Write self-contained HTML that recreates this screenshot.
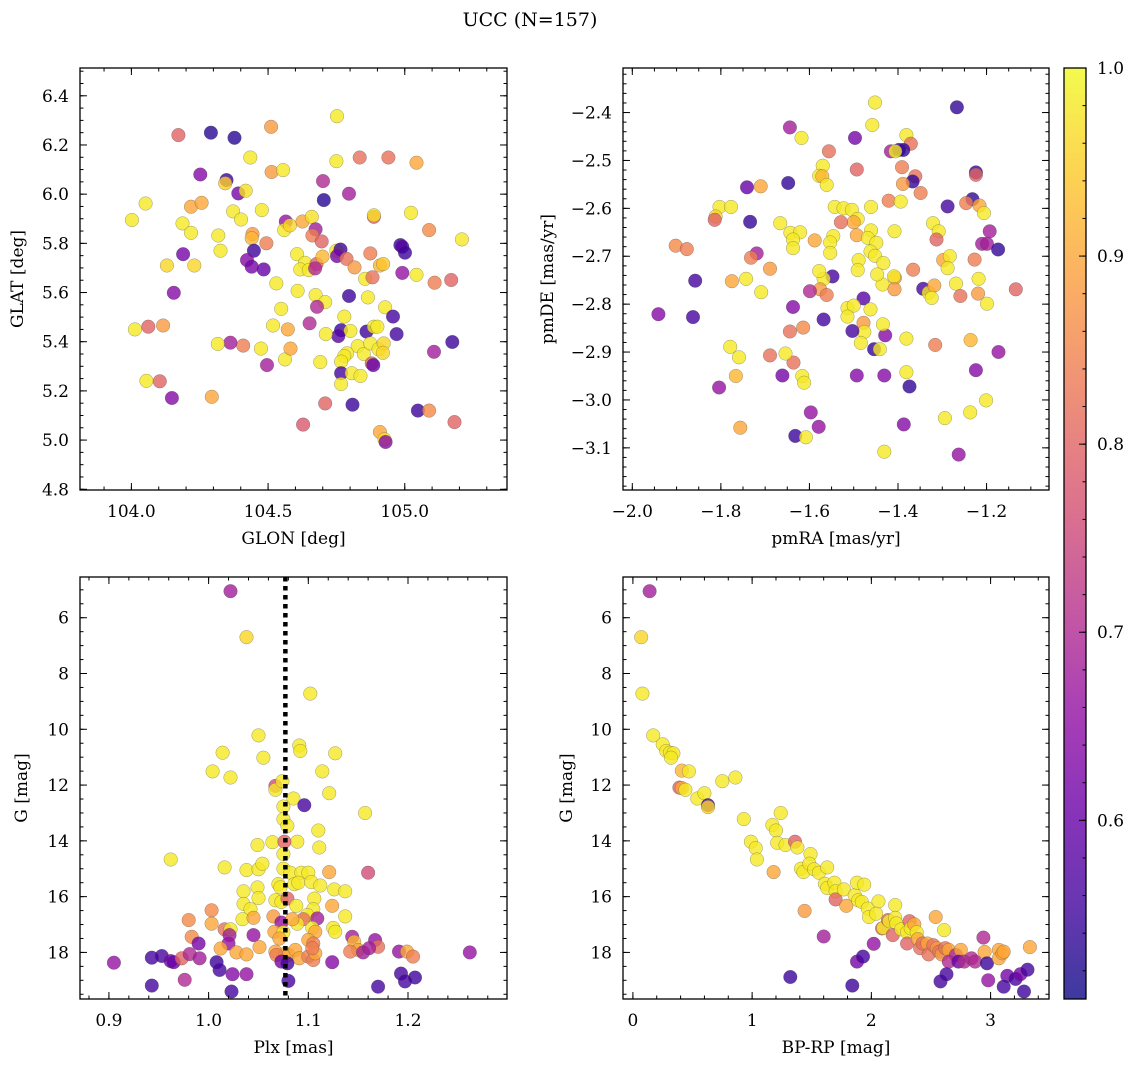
<!DOCTYPE html>
<html><head><meta charset="utf-8"><title>UCC (N=157)</title>
<style>
html,body{margin:0;padding:0;background:#fff;}
svg{display:block;font-family:"DejaVu Serif","Liberation Serif",serif;}
</style></head>
<body>
<svg id="fig" width="1136" height="1067" viewBox="0 0 1136 1067" xmlns="http://www.w3.org/2000/svg">
<defs>
<linearGradient id="plasmaGrad" x1="0" y1="1" x2="0" y2="0">
<stop offset="0" stop-color="#0d0887"/><stop offset="0.1" stop-color="#41049d"/><stop offset="0.2" stop-color="#6a00a8"/><stop offset="0.3" stop-color="#8f0da4"/><stop offset="0.4" stop-color="#b12a90"/><stop offset="0.5" stop-color="#cc4778"/><stop offset="0.6" stop-color="#e16462"/><stop offset="0.7" stop-color="#f2844b"/><stop offset="0.8" stop-color="#fca636"/><stop offset="0.9" stop-color="#fcce25"/><stop offset="1" stop-color="#f0f921"/>
</linearGradient>
</defs>
<text x="530" y="26" font-size="19" text-anchor="middle">UCC (N=157)</text>
</svg>
<script>
// ---- Panel 1: GLON / GLAT ----
const glon=[104.752,104.172,104.291,104.377,104.511,104.435,104.750,104.835,104.940,105.043,104.252,104.348,104.343,104.513,104.555,104.701,104.704,104.796,104.391,104.418,104.052,104.002,104.218,104.257,104.187,104.218,104.318,104.326,104.372,104.401,104.477,104.443,104.440,104.494,104.448,104.189,104.130,104.230,104.423,104.440,104.484,104.155,104.565,104.559,104.580,104.626,104.660,104.674,104.662,104.696,104.606,104.635,104.618,104.649,104.677,104.672,104.699,104.750,104.765,104.752,104.787,104.816,104.874,104.855,104.882,104.909,104.921,104.984,104.991,105.001,104.991,105.043,104.887,104.887,105.023,105.089,105.109,105.170,105.209,104.530,104.608,104.674,104.709,104.679,104.796,104.865,104.928,104.548,104.779,104.957,104.652,104.518,104.572,104.767,104.801,104.860,104.887,104.900,104.970,104.757,104.711,104.828,104.850,104.874,104.904,104.923,104.920,104.789,104.779,104.767,104.879,104.885,104.691,104.562,104.582,104.496,104.474,104.409,104.362,104.316,104.116,104.062,104.013,104.055,104.104,104.148,104.294,104.767,104.767,104.806,104.838,104.709,104.809,104.628,104.909,104.926,104.930,105.048,105.089,105.107,105.174,105.182];
const glat=[6.317,6.240,6.250,6.229,6.274,6.149,6.134,6.149,6.149,6.128,6.080,6.057,6.044,6.090,6.098,6.053,5.976,6.002,6.003,6.014,5.962,5.895,5.949,5.965,5.881,5.843,5.832,5.770,5.930,5.897,5.935,5.838,5.821,5.800,5.770,5.756,5.710,5.710,5.732,5.705,5.694,5.599,5.889,5.854,5.873,5.889,5.908,5.857,5.832,5.808,5.756,5.721,5.694,5.691,5.716,5.698,5.746,5.770,5.775,5.748,5.737,5.702,5.759,5.656,5.662,5.710,5.716,5.793,5.786,5.762,5.680,5.672,5.908,5.914,5.924,5.854,5.640,5.651,5.816,5.637,5.607,5.590,5.561,5.542,5.586,5.580,5.540,5.534,5.502,5.502,5.475,5.466,5.450,5.447,5.444,5.441,5.461,5.461,5.431,5.423,5.431,5.382,5.350,5.393,5.369,5.393,5.355,5.353,5.342,5.319,5.312,5.305,5.317,5.328,5.372,5.305,5.372,5.384,5.396,5.391,5.466,5.461,5.450,5.241,5.239,5.171,5.176,5.272,5.228,5.272,5.261,5.149,5.144,5.063,5.033,5.003,4.992,5.120,5.120,5.359,5.399,5.073];
const prob1=[.98,.8,.53,.53,.88,.98,.98,.82,.82,.9,.64,.55,.95,.88,.98,.7,.53,.68,.62,.97,.98,.98,.9,.9,.98,.98,.98,.98,.98,.98,.98,.88,.92,.84,.55,.62,.96,.96,.64,.62,.6,.64,.66,.98,.96,.9,.97,.68,.84,.8,.98,.98,.98,.98,.8,.7,.92,.98,.55,.62,.82,.88,.84,.98,.82,.92,.94,.55,.58,.55,.66,.98,.8,.97,.98,.86,.84,.8,.98,.98,.98,.98,.98,.7,.55,.98,.98,.98,.98,.56,.7,.98,.9,.55,.98,.55,.98,.98,.56,.58,.98,.98,.98,.98,.98,.96,.96,.98,.98,.98,.8,.6,.98,.98,.9,.68,.98,.84,.68,.98,.88,.8,.98,.98,.8,.64,.9,.56,.98,.98,.98,.8,.55,.78,.9,.97,.64,.55,.86,.68,.55,.8];

// ---- Panel 2: pmRA / pmDE ----
const pmra=[-1.452,-1.267,-1.644,-1.458,-1.618,-1.497,-1.381,-1.371,-1.416,-1.398,-1.388,-1.406,-1.556,-1.493,-1.391,-1.570,-1.578,-1.571,-1.561,-1.361,-1.367,-1.389,-1.349,-1.741,-1.710,-1.648,-1.224,-1.224,-1.232,-1.246,-1.216,-1.206,-1.288,-1.421,-1.394,-1.461,-1.543,-1.523,-1.504,-1.491,-1.500,-1.529,-1.803,-1.777,-1.812,-1.814,-1.734,-1.666,-1.643,-1.621,-1.637,-1.637,-1.588,-1.546,-1.553,-1.553,-1.493,-1.461,-1.468,-1.449,-1.462,-1.452,-1.433,-1.408,-1.321,-1.308,-1.313,-1.193,-1.210,-1.199,-1.174,-1.227,-1.298,-1.283,-1.288,-1.366,-1.407,-1.409,-1.435,-1.447,-1.489,-1.491,-1.408,-1.343,-1.331,-1.318,-1.324,-1.269,-1.259,-1.218,-1.219,-1.199,-1.134,-1.173,-1.224,-1.236,-1.316,-1.201,-1.237,-1.294,-1.263,-1.431,-1.387,-1.374,-1.381,-1.431,-1.493,-1.381,-1.454,-1.441,-1.429,-1.434,-1.478,-1.476,-1.484,-1.503,-1.478,-1.462,-1.514,-1.500,-1.514,-1.568,-1.548,-1.568,-1.578,-1.576,-1.561,-1.599,-1.637,-1.644,-1.614,-1.636,-1.654,-1.661,-1.616,-1.612,-1.689,-1.689,-1.719,-1.732,-1.743,-1.775,-1.709,-1.858,-1.902,-1.877,-1.941,-1.863,-1.779,-1.759,-1.766,-1.804,-1.756,-1.597,-1.579,-1.632,-1.608];
const pmde=[-2.379,-2.389,-2.431,-2.426,-2.453,-2.453,-2.447,-2.465,-2.481,-2.478,-2.478,-2.481,-2.481,-2.519,-2.514,-2.511,-2.532,-2.533,-2.551,-2.533,-2.544,-2.549,-2.568,-2.556,-2.554,-2.547,-2.525,-2.530,-2.581,-2.589,-2.594,-2.610,-2.596,-2.584,-2.586,-2.597,-2.597,-2.600,-2.603,-2.622,-2.629,-2.629,-2.597,-2.597,-2.617,-2.624,-2.628,-2.631,-2.651,-2.650,-2.665,-2.683,-2.667,-2.658,-2.671,-2.693,-2.656,-2.646,-2.662,-2.672,-2.690,-2.699,-2.714,-2.648,-2.631,-2.648,-2.665,-2.648,-2.674,-2.674,-2.686,-2.707,-2.708,-2.700,-2.725,-2.728,-2.745,-2.742,-2.759,-2.738,-2.708,-2.729,-2.769,-2.768,-2.776,-2.761,-2.787,-2.757,-2.783,-2.747,-2.778,-2.799,-2.769,-2.900,-2.938,-2.875,-2.885,-3.001,-3.026,-3.038,-3.114,-3.108,-3.051,-2.972,-2.942,-2.949,-2.949,-2.872,-2.894,-2.894,-2.865,-2.842,-2.839,-2.858,-2.881,-2.856,-2.788,-2.811,-2.808,-2.803,-2.826,-2.832,-2.742,-2.747,-2.731,-2.769,-2.781,-2.773,-2.806,-2.857,-2.849,-2.922,-2.903,-2.949,-2.950,-2.964,-2.907,-2.726,-2.694,-2.703,-2.747,-2.752,-2.775,-2.751,-2.678,-2.685,-2.821,-2.827,-2.889,-2.911,-2.950,-2.974,-3.058,-3.026,-3.056,-3.075,-3.078];
const prob2=[.98,.54,.68,.98,.98,.62,.98,.82,.68,.54,.54,.98,.82,.8,.84,.98,.98,.92,.98,.82,.54,.88,.84,.6,.9,.54,.54,.8,.54,.84,.9,.98,.56,.84,.98,.98,.98,.98,.98,.98,.9,.82,.98,.98,.96,.8,.54,.98,.98,.98,.98,.98,.9,.98,.98,.98,.9,.98,.98,.98,.98,.98,.98,.98,.98,.98,.8,.68,.68,.68,.54,.84,.9,.98,.98,.84,.88,.98,.98,.98,.98,.98,.88,.56,.98,.9,.98,.98,.82,.98,.88,.98,.8,.66,.64,.92,.84,.98,.98,.98,.66,.98,.64,.54,.98,.64,.64,.98,.54,.98,.64,.98,.88,.98,.98,.56,.58,.98,.98,.98,.98,.56,.56,.98,.98,.88,.84,.7,.64,.82,.86,.82,.98,.62,.98,.98,.82,.88,.68,.84,.98,.9,.98,.56,.86,.84,.64,.56,.98,.98,.92,.66,.9,.66,.66,.55,.98];

// ---- Panel 3: Plx / G ----
const plx=[1.022,1.038,1.102,1.050,1.091,1.092,1.127,1.014,1.055,1.004,1.022,1.114,1.067,1.067,1.074,1.121,1.085,1.096,1.075,1.157,1.075,1.079,1.110,1.049,1.064,1.089,1.076,1.075,1.111,0.962,1.016,1.038,1.050,1.054,1.121,1.160,1.075,1.082,1.093,1.100,1.070,1.072,1.086,1.090,1.103,1.112,1.049,1.035,1.126,1.137,1.067,1.073,1.079,1.050,1.035,1.042,1.088,1.106,1.105,1.124,1.003,0.980,1.003,1.034,1.045,1.065,1.099,1.095,1.109,1.137,1.073,1.089,1.084,1.016,1.022,1.021,1.020,1.066,1.075,1.104,1.107,1.125,1.127,1.045,0.983,0.990,1.071,1.100,1.105,1.144,1.146,1.150,1.167,1.170,1.012,1.028,1.038,1.051,1.067,1.077,1.080,1.068,1.087,1.091,1.100,1.105,1.107,1.104,1.142,1.155,1.161,1.191,1.199,1.205,1.262,0.905,0.943,0.953,0.962,0.965,0.973,0.981,0.991,1.008,1.011,1.024,1.038,0.976,0.943,1.023,1.073,1.079,1.080,1.124,1.170,1.193,1.197,1.207];
const gmag3=[5.05,6.70,8.72,10.22,10.58,10.78,10.86,10.84,11.02,11.51,11.73,11.51,12.03,12.17,11.86,12.29,12.48,12.72,12.77,13.00,13.22,13.46,13.63,14.15,14.05,14.03,14.03,14.47,14.24,14.67,14.95,15.05,15.02,14.82,15.12,15.14,15.00,15.14,15.14,15.14,15.55,15.67,15.55,15.50,15.48,15.60,15.67,15.81,15.74,15.81,16.13,16.19,16.07,16.05,16.26,16.45,16.33,16.07,16.45,16.33,16.49,16.84,16.97,16.81,16.76,16.71,16.66,16.81,16.78,16.71,16.93,16.97,16.81,17.17,17.17,17.38,17.68,17.26,17.28,17.12,17.26,17.12,17.26,17.38,17.44,17.68,17.50,17.55,17.68,17.44,17.62,17.91,17.56,17.80,17.86,18.00,18.07,17.81,17.97,18.04,18.09,18.09,17.91,18.21,18.15,18.27,18.03,17.85,17.97,18.00,17.85,17.97,17.97,18.15,18.00,18.37,18.19,18.13,18.31,18.35,18.21,18.06,18.21,18.35,18.63,18.78,18.78,18.98,19.19,19.40,18.33,18.39,19.02,18.35,19.23,18.76,19.04,18.90];
const prob3=[.68,.96,.98,.98,.98,.98,.98,.98,.98,.98,.98,.98,.76,.98,.98,.98,.98,.56,.98,.98,.98,.98,.98,.98,.98,.98,.8,.98,.98,.98,.98,.98,.98,.98,.9,.76,.98,.98,.98,.98,.98,.98,.98,.98,.98,.98,.98,.98,.98,.98,.98,.98,.8,.98,.98,.98,.98,.98,.98,.9,.86,.86,.9,.98,.9,.88,.98,.82,.68,.98,.66,.98,.9,.82,.98,.68,.66,.9,.98,.98,.9,.98,.98,.66,.86,.62,.9,.9,.84,.68,.92,.9,.66,.82,.9,.9,.9,.9,.9,.9,.9,.84,.9,.9,.84,.84,.9,.84,.84,.68,.68,.66,.9,.84,.66,.66,.56,.56,.62,.6,.8,.7,.68,.55,.56,.64,.66,.7,.56,.56,.62,.56,.56,.64,.56,.56,.56,.55];

// ---- Panel 4: BP-RP / G ----
const bprp=[0.14,0.07,0.08,0.17,0.25,0.28,0.31,0.34,0.32,0.41,0.47,0.75,0.86,0.39,0.41,0.44,0.54,0.60,0.63,0.63,0.93,1.24,1.17,1.20,0.99,1.03,1.04,1.21,1.28,1.36,1.38,1.49,1.18,1.41,1.43,1.48,1.52,1.56,1.63,1.61,1.63,1.69,1.70,1.70,1.77,1.79,1.86,1.88,1.94,1.89,1.92,1.97,1.98,2.06,2.04,2.09,2.10,2.14,2.15,2.20,2.20,2.21,2.18,2.25,2.30,2.30,2.32,2.33,2.36,2.38,2.39,2.41,2.43,2.47,2.48,2.54,2.61,2.52,2.55,2.57,2.59,2.62,2.65,2.65,2.71,2.75,2.73,2.78,2.84,2.87,2.94,2.95,2.97,3.07,3.07,3.10,3.11,3.33,2.98,3.14,3.21,3.25,3.31,3.11,3.28,2.58,2.63,1.44,1.60,2.02,1.88,1.93,1.32,1.84];
const gmag4=[5.05,6.70,8.72,10.22,10.54,10.78,10.84,10.86,11.02,11.48,11.51,11.86,11.73,12.09,12.11,12.17,12.48,12.29,12.72,12.79,13.22,13.00,13.43,13.63,14.03,14.26,14.67,14.07,14.15,14.03,14.24,14.47,15.12,15.00,15.12,14.82,15.02,15.14,14.95,15.54,15.69,15.50,15.81,16.10,15.74,16.33,15.95,15.50,15.57,16.13,16.19,16.43,16.73,16.17,16.61,17.14,17.12,16.84,16.88,16.30,16.76,16.96,17.38,17.17,17.28,17.68,16.88,17.14,16.99,17.28,17.52,17.85,17.68,17.68,18.07,16.73,17.20,17.74,17.85,17.97,18.07,17.85,17.91,18.33,18.09,17.91,18.33,18.33,18.21,18.33,17.47,17.98,18.39,17.91,18.21,18.03,17.97,17.81,19.00,18.84,18.95,18.78,18.62,19.23,19.40,19.04,18.78,16.51,17.43,17.69,18.33,18.15,18.88,19.19];
const prob4=[.68,.96,.98,.98,.98,.98,.98,.98,.98,.92,.98,.98,.98,.8,.9,.98,.98,.98,.56,.96,.98,.98,.98,.98,.98,.98,.98,.98,.98,.8,.98,.98,.9,.98,.98,.98,.98,.98,.98,.98,.98,.98,.98,.8,.98,.9,.98,.98,.98,.98,.98,.98,.98,.98,.98,.8,.98,.8,.98,.98,.98,.98,.8,.98,.98,.8,.8,.98,.9,.98,.9,.82,.82,.9,.82,.9,.98,.82,.88,.82,.88,.82,.9,.7,.7,.9,.6,.7,.7,.7,.7,.9,.55,.9,.9,.9,.9,.9,.66,.62,.56,.62,.56,.56,.55,.56,.56,.88,.68,.66,.62,.56,.55,.55];

// ---- Colorbar ticks ----
const cbTicks=[0.6,0.7,0.8,0.9,1.0];
const cbMin=0.505, cbMax=1.0;

const NS="http://www.w3.org/2000/svg";
const svg=document.getElementById('fig');
function el(tag,attrs,parent){const e=document.createElementNS(NS,tag);for(const k in attrs)e.setAttribute(k,attrs[k]);(parent||svg).appendChild(e);return e;}

const plasmaStops=[[13,8,135],[65,4,157],[106,0,168],[143,13,164],[177,42,144],[204,71,120],[225,100,98],[242,132,75],[252,166,54],[252,206,37],[240,249,33]];
function plasma(t){t=Math.max(0,Math.min(1,t));const f=t*10;const i=Math.min(9,Math.floor(f));const r=f-i;const a=plasmaStops[i],b=plasmaStops[i+1];
 return 'rgb('+Math.round(a[0]+(b[0]-a[0])*r)+','+Math.round(a[1]+(b[1]-a[1])*r)+','+Math.round(a[2]+(b[2]-a[2])*r)+')';}
function colorOf(p){return plasma((p-cbMin)/(cbMax-cbMin));}

function fmt(v,d){return (v<0?'\u2212':'')+Math.abs(v).toFixed(d);}

function panel(cfg){
 const g=el('g',{});
 
 
 const L=cfg.box[0],T=cfg.box[1],R=cfg.box[2],B=cfg.box[3];
 const sx=v=>L+(v-cfg.xd[0])/(cfg.xd[1]-cfg.xd[0])*(R-L);
 const sy=cfg.yInv? (v=>T+(v-cfg.yd[0])/(cfg.yd[1]-cfg.yd[0])*(B-T)) : (v=>B-(v-cfg.yd[0])/(cfg.yd[1]-cfg.yd[0])*(B-T));
 const pts=el('g',{},g);
 
 
 for(let i=0;i<cfg.xs.length;i++){
  const c=el('circle',{cx:sx(cfg.xs[i]).toFixed(1),cy:sy(cfg.ys[i]).toFixed(1),r:6.8,fill:colorOf(cfg.ps[i]),'fill-opacity':0.8,stroke:'#444','stroke-opacity':0.5,'stroke-width':0.5},pts);
  
  
 }
 if(cfg.vline!==undefined){
  const ln=el('line',{x1:sx(cfg.vline),x2:sx(cfg.vline),y1:T,y2:B,stroke:'#000','stroke-width':4.5,'stroke-dasharray':'4.5 4.5'},g);
  
  
 }
 const tg=el('g',{stroke:'#000','stroke-width':1},g);
 
 
 function range(a,b,s){const o=[];const n=Math.round((b-a)/s);for(let k=0;k<=n;k++)o.push(a+k*s);return o;}
 const xmin=Math.min(...cfg.xd),xmax=Math.max(...cfg.xd),ymin=Math.min(...cfg.yd),ymax=Math.max(...cfg.yd);
 range(Math.ceil(xmin/cfg.xm-1e-6)*cfg.xm,xmax,cfg.xm).forEach(v=>{if(v>xmax+1e-9)return;const x=sx(v);el('line',{x1:x,x2:x,y1:B,y2:B-3.5},tg);el('line',{x1:x,x2:x,y1:T,y2:T+3.5},tg);});
 range(Math.ceil(ymin/cfg.ym-1e-6)*cfg.ym,ymax,cfg.ym).forEach(v=>{if(v>ymax+1e-9)return;const y=sy(v);el('line',{x1:L,x2:L+3.5,y1:y,y2:y},tg);el('line',{x1:R,x2:R-3.5,y1:y,y2:y},tg);});
 cfg.xt.forEach(v=>{const x=sx(v);el('line',{x1:x,x2:x,y1:B,y2:B-7},tg);el('line',{x1:x,x2:x,y1:T,y2:T+7},tg);
  const t=el('text',{x:x,y:B+27,'font-size':17,'text-anchor':'middle',stroke:'none',fill:'#000'},g);t.textContent=fmt(v,cfg.xdec);
  
  });
 cfg.yt.forEach(v=>{const y=sy(v);el('line',{x1:L,x2:L+7,y1:y,y2:y},tg);el('line',{x1:R,x2:R-7,y1:y,y2:y},tg);
  const t=el('text',{x:L-11,y:y+6,'font-size':17,'text-anchor':'end',fill:'#000'},g);t.textContent=fmt(v,cfg.ydec);
  
  });
 const fr=el('rect',{x:L,y:T,width:R-L,height:B-T,fill:'none',stroke:'#000','stroke-width':1.3},g);
 
 
 const xl=el('text',{x:(L+R)/2,y:B+54,'font-size':17,'text-anchor':'middle'},g);xl.textContent=cfg.xlabel;
 
 
 const yx=cfg.ylx,yy=(T+B)/2;
 const yl=el('text',{x:yx,y:yy,'font-size':17,'text-anchor':'middle','dominant-baseline':'central',transform:'rotate(-90 '+yx+' '+yy+')'},g);yl.textContent=cfg.ylabel;
 
 
}

panel({name:'glon-glat-panel',box:[80,68,507,490],xd:[103.812,105.374],yd:[4.797,6.513],xs:glon,ys:glat,ps:prob1,
 xt:[104.0,104.5,105.0],xdec:1,xm:0.1,yt:[4.8,5.0,5.2,5.4,5.6,5.8,6.0,6.2,6.4],ydec:1,ym:0.05,xlabel:'GLON [deg]',ylabel:'GLAT [deg]',ylx:18});
panel({name:'pm-panel',box:[623,68,1049,490],xd:[-2.021,-1.059],yd:[-3.188,-2.307],xs:pmra,ys:pmde,ps:prob2,
 xt:[-2.0,-1.8,-1.6,-1.4,-1.2],xdec:1,xm:0.05,yt:[-3.1,-3.0,-2.9,-2.8,-2.7,-2.6,-2.5,-2.4],ydec:1,ym:0.02,xlabel:'pmRA [mas/yr]',ylabel:'pmDE [mas/yr]',ylx:548});
panel({name:'plx-g-panel',box:[80,577,507,999],xd:[0.871,1.2993],yd:[4.54,19.67],yInv:true,xs:plx,ys:gmag3,ps:prob3,vline:1.077,
 xt:[0.9,1.0,1.1,1.2],xdec:1,xm:0.02,yt:[6,8,10,12,14,16,18],ydec:0,ym:0.5,xlabel:'Plx [mas]',ylabel:'G [mag]',ylx:22});
panel({name:'cmd-panel',box:[623,577,1049,999],xd:[-0.083,3.49],yd:[4.54,19.67],yInv:true,xs:bprp,ys:gmag4,ps:prob4,
 xt:[0,1,2,3],xdec:0,xm:0.2,yt:[6,8,10,12,14,16,18],ydec:0,ym:0.5,xlabel:'BP-RP [mag]',ylabel:'G [mag]',ylx:567});

(function(){
 const L=1064,R=1086,T=68,B=999;
 const g=el('g',{});
 
 
 el('rect',{x:L,y:T,width:R-L,height:B-T,fill:'url(#plasmaGrad)','fill-opacity':0.8},g);
 el('rect',{x:L,y:T,width:R-L,height:B-T,fill:'none',stroke:'#000','stroke-width':1.3},g);
 const sy=v=>B-(v-cbMin)/(cbMax-cbMin)*(B-T);
 for(let k=0;k<=25;k++){const v=0.52+k*0.02;if(v>cbMax+1e-9)break;const y=sy(v);el('line',{x1:R,x2:R-3.5,y1:y,y2:y,stroke:'#000','stroke-width':1},g);}
 cbTicks.forEach(v=>{const y=sy(v);el('line',{x1:R,x2:R-7,y1:y,y2:y,stroke:'#000','stroke-width':1},g);
  const t=el('text',{x:R+11,y:y+6,'font-size':17,fill:'#000'},g);t.textContent=v.toFixed(1);
  
  });
})();
</script>
</body></html>
